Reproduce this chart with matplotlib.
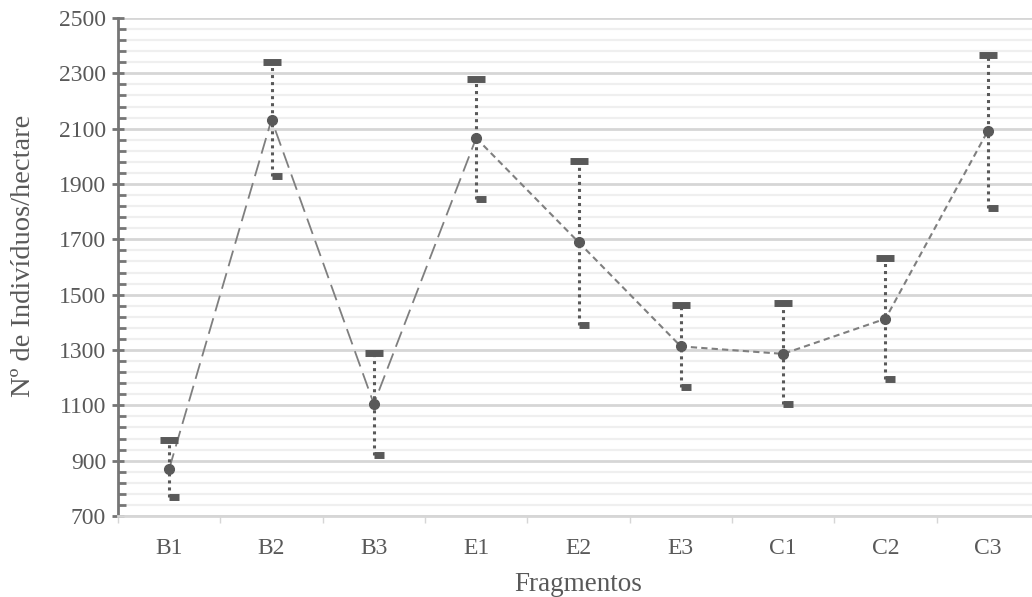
import numpy as np
import matplotlib.pyplot as plt
from matplotlib.path import Path
from matplotlib.ticker import FixedLocator

fragmentos = ['B1', 'B2', 'B3', 'E1', 'E2', 'E3', 'C1', 'C2', 'C3']
media = [870, 2133, 1105, 2066, 1690, 1313, 1286, 1413, 2092]
superior = [975, 2341, 1289, 2280, 1983, 1461, 1470, 1633, 2366]
inferior = [767, 1929, 922, 1846, 1392, 1167, 1105, 1194, 1815]

plt.rcParams['font.family'] = ['Liberation Serif', 'DejaVu Serif']
txt = '#595959'

fig = plt.figure(figsize=(10.32, 5.97), dpi=100)
ax = fig.add_axes([118/1032, 1 - 516/597, (1039 - 118)/1032, (516 - 18)/597])

x = np.arange(len(fragmentos))

# grid
ax.yaxis.set_major_locator(FixedLocator(np.arange(700, 2501, 200)))
ax.yaxis.set_minor_locator(FixedLocator(np.arange(700, 2501, 40)))
ax.grid(True, which='minor', axis='y', color='#efefef', lw=1.6, zorder=0)
ax.grid(True, which='major', axis='y', color='#d6d6d6', lw=2.0, zorder=0)

# error bars (dotted)
ax.vlines(x, inferior, superior, colors='#595959', linestyles=(0, (1, 1.3)), lw=2.2, zorder=3)
ax.plot(x, superior, ls='none', marker='_', ms=13, mew=5, color='#595959', zorder=4)
half = Path([(0, 0), (1, 0)], [Path.MOVETO, Path.LINETO])
ax.plot(x, inferior, ls='none', marker=half, ms=14, mew=5, color='#595959', zorder=4)

# mean line
ax.plot(x[:4], media[:4], color='#7f7f7f', lw=1.3, ls=(0, (9, 4)), zorder=2)
ax.plot(x[3:], media[3:], color='#7f7f7f', lw=1.5, ls=(0, (3, 2)), zorder=2)
ax.plot(x, media, ls='none', marker='o', ms=7, color='#595959', zorder=5)

ax.set_xlim(-0.5, len(fragmentos) - 0.5)
ax.set_ylim(700, 2500)
ax.set_xticks(x)
ax.set_xticklabels(fragmentos)
ax.set_xticks(np.arange(-0.5, len(fragmentos), 1), minor=True)

for s in ['top', 'right']:
    ax.spines[s].set_visible(False)
ax.spines['left'].set_color('#767676')
ax.spines['left'].set_linewidth(2)
ax.spines['bottom'].set_color('#d6d6d6')
ax.spines['bottom'].set_linewidth(2)

ax.tick_params(axis='y', which='major', direction='inout', length=9, width=2,
               color='#767676', labelsize=17, labelcolor=txt, pad=4)
ax.tick_params(axis='y', which='minor', direction='in', length=6, width=2, color='#767676')
ax.tick_params(axis='x', which='major', length=0, labelsize=17, labelcolor=txt, pad=16)
ax.tick_params(axis='x', which='minor', direction='out', length=5, width=1, color='#d6d6d6')

ax.set_xlabel('Fragmentos', fontsize=19.5, color=txt, labelpad=9)
ax.set_ylabel('Nº de Indivíduos/hectare', fontsize=20.5, color=txt)
ax.yaxis.set_label_coords(-0.089, 0.522)

plt.savefig('out.png', dpi=100)
